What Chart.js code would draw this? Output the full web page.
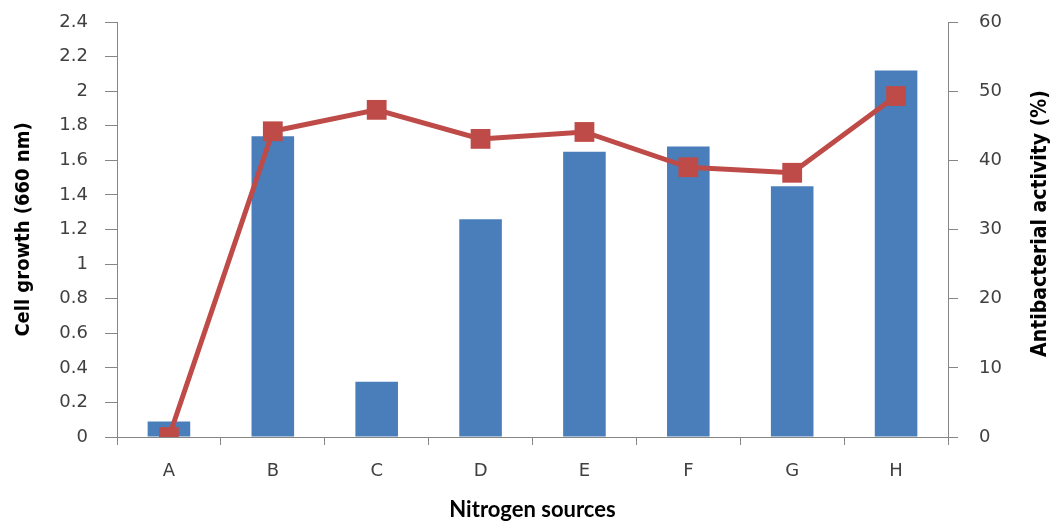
<!DOCTYPE html>
<html>
<head>
<meta charset="utf-8">
<script src="https://cdn.jsdelivr.net/npm/chart.js@4/dist/chart.umd.min.js"></script>
<style>
  html, body { margin: 0; padding: 0; background: #ffffff; }
  #wrap { width: 1057px; height: 525px; }
</style>
</head>
<body>
<div id="wrap"><canvas id="c" width="1057" height="525"></canvas></div>
<script>
const categories = ['A', 'B', 'C', 'D', 'E', 'F', 'G', 'H'];
const cellGrowth = [0.09, 1.74, 0.32, 1.26, 1.65, 1.68, 1.45, 2.12];
const antibacterialActivity = [0, 44.2, 47.3, 43.1, 44.1, 39.0, 38.2, 49.3];
const xTitle = 'Nitrogen sources';
const leftTitle = 'Cell growth (660 nm)';
const rightTitle = 'Antibacterial activity (%)';

const axisColor = '#868686';
const tickColor = '#404040';
const tickFont = { family: 'DejaVu Sans', size: 18 };
const narrowBold = { family: "'Liberation Sans Narrow', 'DejaVu Sans Condensed', 'DejaVu Sans'", size: 20, weight: 'bold' };

const rightTitlePlugin = {
  id: 'rightTitle',
  afterDraw(chart) {
    const ctx = chart.ctx;
    ctx.save();
    ctx.translate(1041, (chart.chartArea.top + chart.chartArea.bottom) / 2 - 6);
    ctx.rotate(-Math.PI / 2);
    ctx.font = "bold 21px 'Liberation Sans Narrow', 'DejaVu Sans Condensed', 'DejaVu Sans'";
    ctx.fillStyle = '#000000';
    ctx.textAlign = 'center';
    ctx.textBaseline = 'middle';
    ctx.fillText(rightTitle, 0, 0);
    ctx.restore();
  }
};

new Chart(document.getElementById('c'), {
  data: {
    labels: categories,
    datasets: [
      {
        type: 'line',
        label: 'Antibacterial activity',
        data: antibacterialActivity,
        yAxisID: 'y1',
        borderColor: '#BE4B48',
        backgroundColor: '#BE4B48',
        borderWidth: 5,
        pointStyle: 'rect',
        pointRadius: 14,
        pointBorderWidth: 0,
        tension: 0,
        order: 0
      },
      {
        type: 'bar',
        label: 'Cell growth',
        data: cellGrowth,
        yAxisID: 'y',
        backgroundColor: '#4A7EBB',
        borderWidth: 0,
        categoryPercentage: 1,
        barPercentage: 0.41,
        order: 1
      }
    ]
  },
  plugins: [rightTitlePlugin],
  options: {
    responsive: false,
    animation: false,
    layout: { padding: { top: 22, left: 0, right: 0, bottom: 0 } },
    plugins: { legend: { display: false }, tooltip: { enabled: false } },
    scales: {
      x: {
        offset: true,
        grid: { display: true, drawOnChartArea: false, drawTicks: true, tickLength: 8, color: axisColor, offset: true },
        border: { display: true, color: axisColor, width: 1 },
        ticks: { color: tickColor, font: tickFont, padding: 16, maxRotation: 0 },
        title: { display: true, text: xTitle, color: '#000000', font: { family: 'Lato', size: 22, weight: 'bold' }, padding: { top: 0, bottom: 2 } },
        afterFit(s) { s.height = 88; }
      },
      y: {
        position: 'left',
        min: 0, max: 2.4,
        ticks: {
          stepSize: 0.2, color: tickColor, font: tickFont, padding: 17,
          callback: v => String(parseFloat(Number(v).toFixed(1)))
        },
        grid: { display: true, drawOnChartArea: false, drawTicks: true, tickLength: 12, color: axisColor },
        border: { display: true, color: axisColor, width: 1 },
        title: { display: true, text: leftTitle, color: '#000000', font: narrowBold, padding: { top: 12, bottom: 0 } },
        afterFit(s) { s.width = 117; s.paddingTop = 0; s.paddingBottom = 0; }
      },
      y1: {
        position: 'right',
        min: 0, max: 60,
        ticks: { stepSize: 10, color: tickColor, font: tickFont, padding: 21 },
        grid: { display: true, drawOnChartArea: false, drawTicks: true, tickLength: 10, color: axisColor },
        border: { display: true, color: axisColor, width: 1 },
        afterFit(s) { s.width = 109; s.paddingTop = 0; s.paddingBottom = 0; }
      }
    }
  }
});
</script>
</body>
</html>
